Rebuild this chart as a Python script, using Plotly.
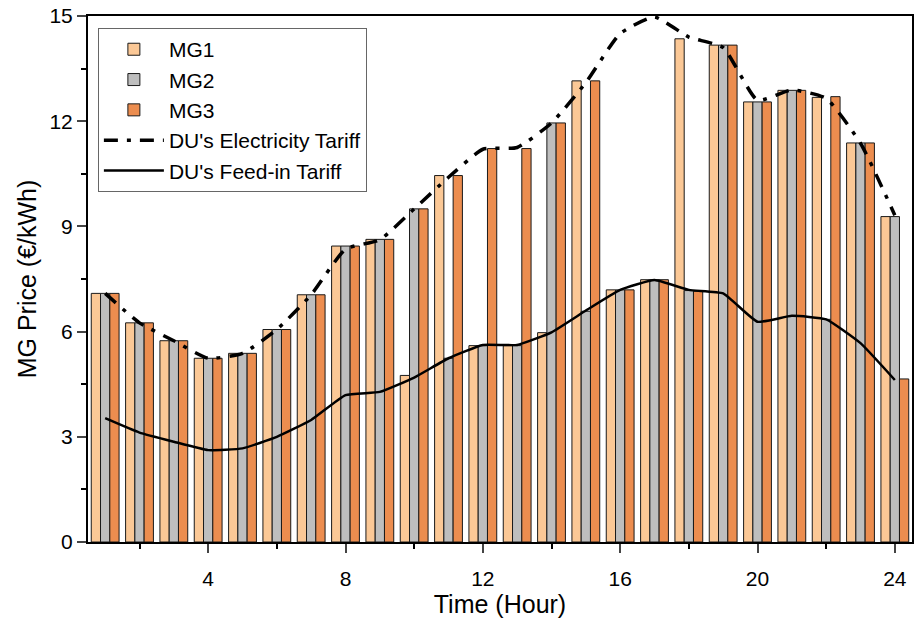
import plotly.graph_objects as go

hours = list(range(1, 25))
mg1 = [7.09, 6.25, 5.74, 5.24, 5.38, 6.06, 7.05, 8.44, 8.63, 4.75, 10.45, 5.60,
       5.60, 5.97, 13.15, 7.19, 7.48, 14.35, 14.17, 12.55, 12.88, 12.68, 11.38, 9.28]
mg2 = [7.09, 6.25, 5.74, 5.24, 5.38, 6.06, 7.05, 8.44, 8.63, 9.50, 5.24, 5.60,
       5.60, 11.95, 6.58, 7.19, 7.48, 7.17, 14.17, 12.55, 12.88, 6.35, 11.38, 9.28]
mg3 = [7.09, 6.25, 5.74, 5.24, 5.38, 6.06, 7.05, 8.44, 8.63, 9.50, 10.45, 11.22,
       11.22, 11.95, 13.15, 7.19, 7.48, 7.15, 14.17, 12.55, 12.88, 12.70, 11.38, 4.65]
elec_tariff = [7.09, 6.25, 5.74, 5.24, 5.38, 6.06, 7.05, 8.35, 8.62, 9.50, 10.40, 11.20,
               11.25, 11.95, 13.10, 14.50, 14.97, 14.40, 14.10, 12.60, 12.89, 12.65, 11.37, 9.32]
feedin_tariff = [3.53, 3.12, 2.86, 2.62, 2.67, 3.00, 3.48, 4.19, 4.28, 4.69, 5.24, 5.62,
                 5.62, 5.98, 6.60, 7.19, 7.47, 7.19, 7.09, 6.28, 6.45, 6.35, 5.67, 4.62]

names = ["MG1", "MG2", "MG3"]
colors = ["#FBC896", "#BEBEBE", "#EC8D4F"]
series = [mg1, mg2, mg3]

fig = go.Figure()
for n, c, s in zip(names, colors, series):
    fig.add_trace(go.Bar(x=hours, y=s, name=n, marker=dict(color=c, line=dict(color="#1a1a1a", width=1))))

fig.add_trace(go.Scatter(x=hours, y=elec_tariff, name="DU's Electricity Tariff", mode="lines",
                         line=dict(color="black", width=3.5, dash="14px,9px,4px,9px", shape="spline", smoothing=0.5)))
fig.add_trace(go.Scatter(x=hours, y=feedin_tariff, name="DU's Feed-in Tariff", mode="lines",
                         line=dict(color="black", width=2.5, shape="spline", smoothing=0.4)))

font = "Arial, Liberation Sans, sans-serif"
fig.update_layout(
    width=916, height=633,
    margin=dict(l=88, r=2, t=16, b=91),
    plot_bgcolor="white", paper_bgcolor="white",
    barmode="group", bargap=0.19, bargroupgap=0,
    font=dict(family=font, size=21, color="black"),
    showlegend=True,
    legend=dict(x=0.012, y=0.977, xanchor="left", yanchor="top",
                bgcolor="rgba(255,255,255,1)", bordercolor="#666", borderwidth=1,
                font=dict(size=21, family=font), tracegroupgap=0, itemwidth=60),
)
fig.update_xaxes(range=[0.5, 24.5], tick0=0, dtick=4, ticks="outside", ticklen=9, tickwidth=2,
                 ticklabelstandoff=8,
                 showline=True, linewidth=2, linecolor="black", mirror=True, showgrid=False,
                 zeroline=False, title=dict(text="Time (Hour)", standoff=2),
                 tickfont=dict(size=21),
                 minor=dict(dtick=2, tick0=0, ticks="outside", ticklen=5, tickwidth=2, tickcolor="black", showgrid=False))
fig.update_yaxes(range=[0, 15], tick0=0, dtick=3, ticks="outside", ticklen=9, tickwidth=2,
                 showline=True, linewidth=2, linecolor="black", mirror=True, showgrid=False,
                 zeroline=False, title=dict(text="MG Price (€/kWh)", standoff=6),
                 tickfont=dict(size=21),
                 minor=dict(dtick=1.5, tick0=0, ticks="outside", ticklen=5, tickwidth=2, tickcolor="black", showgrid=False))

fig.write_html("out.html")
